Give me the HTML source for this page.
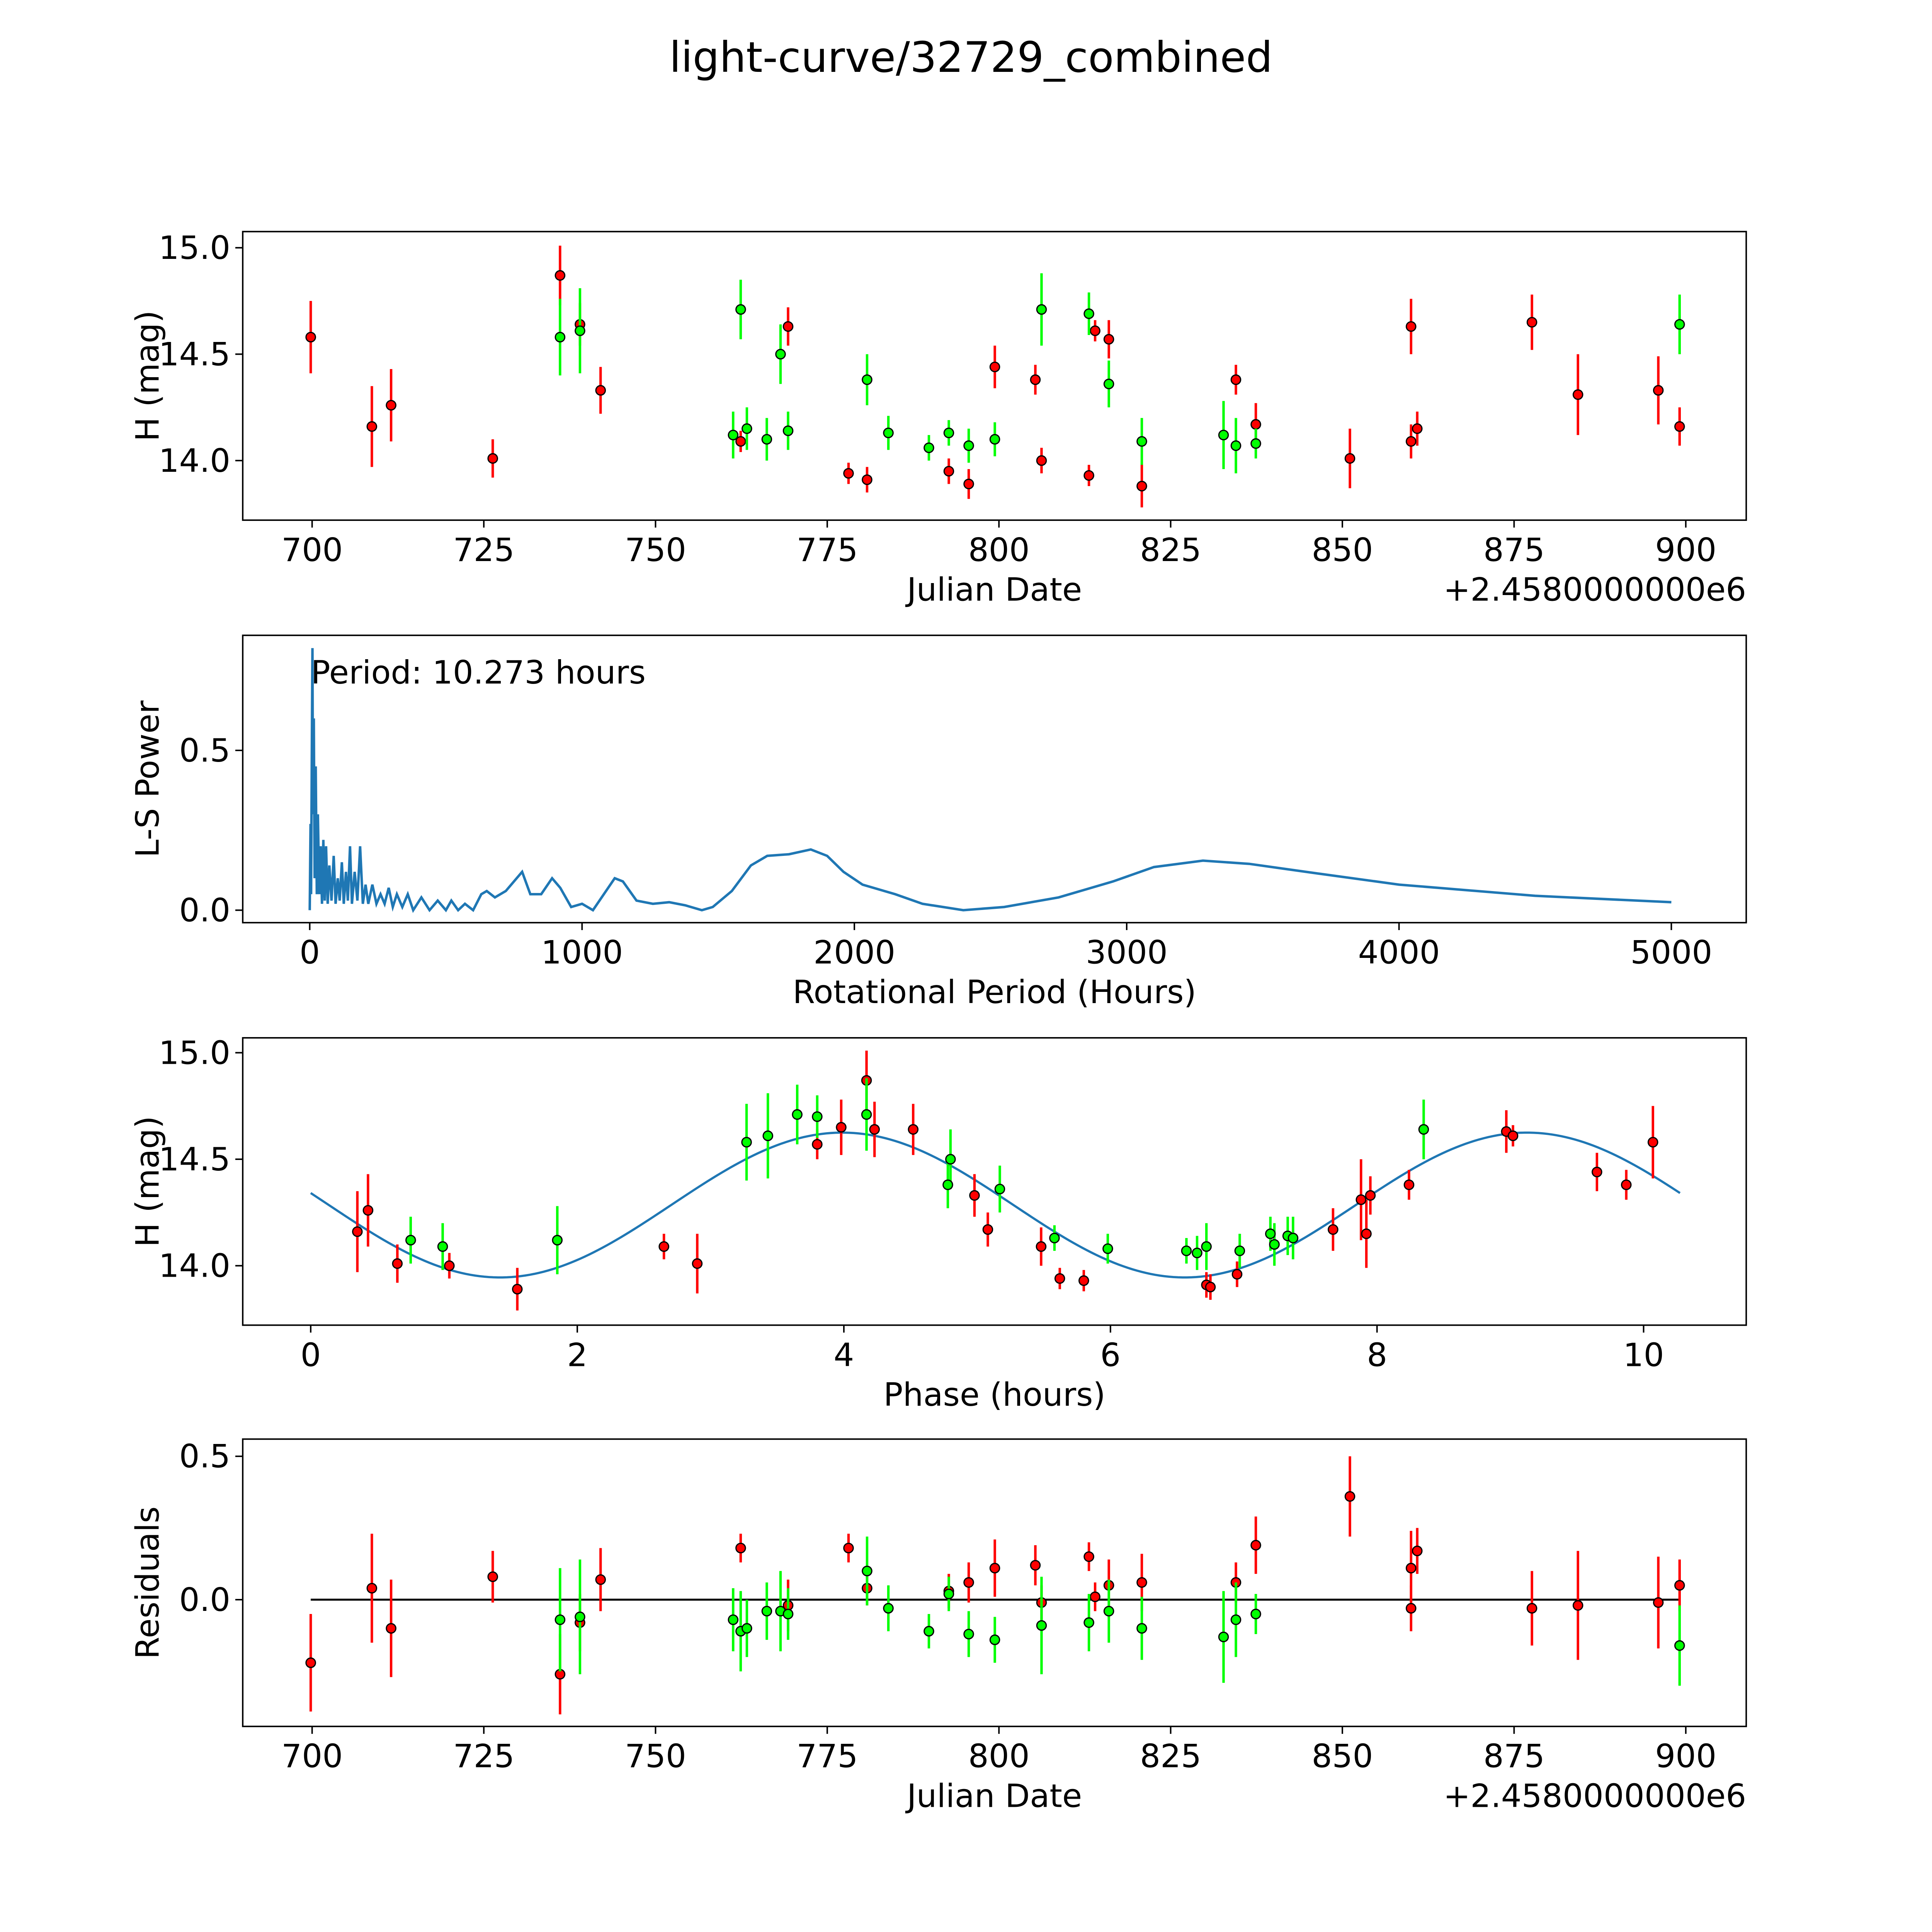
<!DOCTYPE html>
<html><head><meta charset="utf-8">
<style>
html,body{margin:0;padding:0;background:#fff;overflow:hidden;width:100%;height:100%;}
svg{display:block;position:fixed;left:0;top:0;width:100vw;height:100vh;font-family:"DejaVu Sans","Liberation Sans",sans-serif;}
</style></head>
<body>
<svg id="fig" viewBox="0 0 1560 1560" preserveAspectRatio="none" xmlns="http://www.w3.org/2000/svg">
<rect width="1560" height="1560" fill="#fff"/>
<text x="784" y="58" font-size="34" text-anchor="middle">light-curve/32729_combined</text>
</svg>
<script>
// ---- data ----
const redDates=[699.8,708.7,711.5,726.3,736.1,739,742,762.4,769.3,778.1,780.8,792.7,795.6,799.4,805.3,806.2,813.1,814,816,820.8,834.5,837.4,851.1,860,860,860.9,877.6,884.3,896,899.1];
const redMags=[14.58,14.16,14.26,14.01,14.87,14.64,14.33,14.09,14.63,13.94,13.91,13.95,13.89,14.44,14.38,14.00,13.93,14.61,14.57,13.88,14.38,14.17,14.01,14.63,14.09,14.15,14.65,14.31,14.33,14.16];
const redErrs=[0.17,0.19,0.17,0.09,0.14,0.10,0.11,0.05,0.09,0.05,0.06,0.06,0.07,0.10,0.07,0.06,0.05,0.05,0.09,0.10,0.07,0.10,0.14,0.13,0.08,0.08,0.13,0.19,0.16,0.09];
const redResid=[-0.22,0.04,-0.10,0.08,-0.26,-0.08,0.07,0.18,-0.02,0.18,0.04,0.03,0.06,0.11,0.12,-0.01,0.15,0.01,0.05,0.06,0.06,0.19,0.36,0.11,-0.03,0.17,-0.03,-0.02,-0.01,0.05];
const greenDates=[736.1,739,761.3,762.4,763.3,766.2,768.2,769.3,780.8,783.9,789.8,792.7,795.6,799.4,806.2,813.1,816,820.8,832.7,834.5,837.4,899.1];
const greenMags=[14.58,14.61,14.12,14.71,14.15,14.10,14.50,14.14,14.38,14.13,14.06,14.13,14.07,14.10,14.71,14.69,14.36,14.09,14.12,14.07,14.08,14.64];
const greenErrs=[0.18,0.20,0.11,0.14,0.10,0.10,0.14,0.09,0.12,0.08,0.06,0.06,0.08,0.08,0.17,0.10,0.11,0.11,0.16,0.13,0.07,0.14];
const greenResid=[-0.07,-0.06,-0.07,-0.11,-0.10,-0.04,-0.04,-0.05,0.10,-0.03,-0.11,0.02,-0.12,-0.14,-0.09,-0.08,-0.04,-0.10,-0.13,-0.07,-0.05,-0.16];
const redPhase=[0.35,0.43,0.65,1.04,1.55,2.65,2.90,3.80,3.98,4.17,4.23,4.52,4.98,5.08,5.48,5.62,5.80,6.72,6.75,6.95,7.67,7.88,7.92,7.95,8.24,8.97,9.02,9.65,9.87,10.07];
const redPhaseMag=[14.16,14.26,14.01,14.00,13.89,14.09,14.01,14.57,14.65,14.87,14.64,14.64,14.33,14.17,14.09,13.94,13.93,13.91,13.90,13.96,14.17,14.31,14.15,14.33,14.38,14.63,14.61,14.44,14.38,14.58];
const redPhaseErr=[0.19,0.17,0.09,0.06,0.10,0.06,0.14,0.07,0.13,0.14,0.13,0.12,0.10,0.08,0.09,0.05,0.05,0.06,0.06,0.06,0.10,0.19,0.16,0.09,0.07,0.10,0.05,0.09,0.07,0.17];
const greenPhase=[0.75,0.99,1.85,3.27,3.43,3.65,3.80,4.17,4.78,4.80,5.17,5.58,5.98,6.57,6.65,6.72,6.97,7.20,7.23,7.33,7.37,8.35];
const greenPhaseMag=[14.12,14.09,14.12,14.58,14.61,14.71,14.70,14.71,14.38,14.50,14.36,14.13,14.08,14.07,14.06,14.09,14.07,14.15,14.10,14.14,14.13,14.64];
const greenPhaseErr=[0.11,0.11,0.16,0.18,0.20,0.14,0.10,0.17,0.11,0.14,0.11,0.06,0.07,0.06,0.08,0.11,0.08,0.08,0.10,0.09,0.10,0.14];
const fitMean=14.285, fitAmp=0.34, fitPeriod=5.1365, fitMinPhase=1.42, fitMax=10.273;
const lsPeriods=[0,3,5,8,10,12,15,18,22,26,30,35,40,45,50,55,60,66,72,80,88,95,103,110,118,125,133,140,148,155,165,175,185,195,205,215,230,245,260,275,290,305,320,340,360,380,410,440,470,500,520,545,570,600,630,650,680,720,760,780,810,850,890,920,960,1000,1040,1080,1120,1150,1200,1260,1320,1380,1440,1480,1550,1620,1680,1760,1840,1900,1960,2030,2150,2250,2400,2550,2750,2950,3100,3280,3450,3700,4000,4500,5000];
const lsPower=[0,0.27,0.05,0.55,0.82,0.3,0.6,0.1,0.45,0.05,0.3,0.05,0.2,0.02,0.22,0.03,0.2,0.02,0.14,0.03,0.17,0.02,0.1,0.03,0.15,0.02,0.12,0.03,0.2,0.02,0.12,0.03,0.2,0.02,0.08,0.02,0.08,0.02,0.05,0.02,0.07,0.01,0.05,0.01,0.05,0,0.04,0,0.03,0,0.03,0,0.02,0,0.05,0.06,0.04,0.06,0.1,0.12,0.05,0.05,0.1,0.07,0.01,0.02,0,0.05,0.1,0.09,0.03,0.02,0.025,0.015,0,0.01,0.06,0.14,0.17,0.175,0.19,0.17,0.12,0.08,0.05,0.02,0,0.01,0.04,0.09,0.135,0.155,0.145,0.115,0.08,0.045,0.025];
const dateTicks=[700,725,750,775,800,825,850,875,900];
const magTicks=[14.0,14.5,15.0];
const lsXTicks=[0,1000,2000,3000,4000,5000];
const lsYTicks=[0.0,0.5];
const phaseTicks=[0,2,4,6,8,10];
const residTicks=[0.0,0.5];

// ---- drawing ----
const svg=document.getElementById('fig');
const NS='http://www.w3.org/2000/svg';
function el(tag,attrs,parent){const e=document.createElementNS(NS,tag);for(const k in attrs)e.setAttribute(k,attrs[k]);(parent||svg).appendChild(e);return e;}
function lin(d0,d1,r0,r1){return v=>r0+(v-d0)*(r1-r0)/(d1-d0);}
const L=196,R=1410;
function makeAxes(name,top,bottom,xd,yd,xticks,yticks,xfmt,yfmt,xlabel,ylabel){
  const g=el('g',{});
  
  
  const x=lin(xd[0],xd[1],L,R), y=lin(yd[0],yd[1],bottom,top);
  xticks.forEach(t=>{const px=x(t);
    el('line',{x1:px,x2:px,y1:bottom,y2:bottom+6,stroke:'#000','stroke-width':1.2},g);
    const tx=el('text',{x:px,y:bottom+33,'font-size':26,'text-anchor':'middle'},g);tx.textContent=xfmt(t);
    
    });
  yticks.forEach(t=>{const py=y(t);
    el('line',{x1:L-6,x2:L,y1:py,y2:py,stroke:'#000','stroke-width':1.2},g);
    const tx=el('text',{x:L-10,y:py+9,'font-size':26,'text-anchor':'end'},g);tx.textContent=yfmt(t);
    
    });
  const xl=el('text',{x:(L+R)/2,y:bottom+65,'font-size':26,'text-anchor':'middle'},g);xl.textContent=xlabel;
  
  
  const yl=el('text',{x:0,y:0,'font-size':26,'text-anchor':'middle',transform:`translate(128,${(top+bottom)/2}) rotate(-90)`},g);yl.textContent=ylabel;
  
  
  const plot=el('g',{},g);
  return {g,plot,x,y,top,bottom};
}
function frame(a){el('rect',{x:L,y:a.top,width:R-L,height:a.bottom-a.top,fill:'none',stroke:'#000','stroke-width':1.2},a.g);}
function points(a,xs,ys,es,color,name){
  xs.forEach((xv,i)=>{
    const px=a.x(xv);
    const eb=el('line',{x1:px,x2:px,y1:a.y(ys[i]-es[i]),y2:a.y(ys[i]+es[i]),stroke:color,'stroke-width':2},a.plot);
    
    
  });
  xs.forEach((xv,i)=>{
    const c=el('circle',{cx:a.x(xv),cy:a.y(ys[i]),r:3.8,fill:color,stroke:'#000','stroke-width':1},a.plot);
    
    
  });
}
function offsetText(a){const t=el('text',{x:R,y:a.bottom+65,'font-size':26,'text-anchor':'end'},a.g);t.textContent='+2.4580000000e6';
  
  }
const f1=v=>v.toFixed(1), f0=v=>String(v);
const dateDom=[689.9,908.8];

// panel 1
const a1=makeAxes('light-curve-panel',187,420,dateDom,[13.72,15.076],dateTicks,magTicks,f0,f1,'Julian Date','H (mag)');
points(a1,redDates,redMags,redErrs,'#ff0000','red');
points(a1,greenDates,greenMags,greenErrs,'#00ff00','green');
frame(a1);offsetText(a1);

// panel 2
const a2=makeAxes('periodogram-panel',513,745,[-246,5275],[-0.039,0.86],lsXTicks,lsYTicks,f0,f1,'Rotational Period (Hours)','L-S Power');
const ls=el('polyline',{points:lsPeriods.map((p,i)=>a2.x(p)+','+a2.y(lsPower[i])).join(' '),fill:'none',stroke:'#1f77b4','stroke-width':2},a2.plot);


const pt=el('text',{x:251,y:552,'font-size':26},a2.g);pt.textContent='Period: 10.273 hours';


frame(a2);

// panel 3
const a3=makeAxes('phase-panel',838,1070,[-0.51,10.77],[13.721,15.07],phaseTicks,magTicks,f0,f1,'Phase (hours)','H (mag)');
const fitPts=[];
for(let i=0;i<=300;i++){const p=fitMax*i/300;const m=fitMean-fitAmp*Math.cos(2*Math.PI*(p-fitMinPhase)/fitPeriod);fitPts.push(a3.x(p)+','+a3.y(m));}
const fl=el('polyline',{points:fitPts.join(' '),fill:'none',stroke:'#1f77b4','stroke-width':1.8},a3.plot);


points(a3,redPhase,redPhaseMag,redPhaseErr,'#ff0000','red-phase');
points(a3,greenPhase,greenPhaseMag,greenPhaseErr,'#00ff00','green-phase');
frame(a3);

// panel 4
const a4=makeAxes('residuals-panel',1162,1394,dateDom,[-0.442,0.56],dateTicks,residTicks,f0,f1,'Julian Date','Residuals');
const zl=el('line',{x1:a4.x(699.8),x2:a4.x(899.1),y1:a4.y(0),y2:a4.y(0),stroke:'#000','stroke-width':1.6},a4.plot);


points(a4,redDates,redResid,redErrs,'#ff0000','red-resid');
points(a4,greenDates,greenResid,greenErrs,'#00ff00','green-resid');
frame(a4);offsetText(a4);
</script>
</body></html>
